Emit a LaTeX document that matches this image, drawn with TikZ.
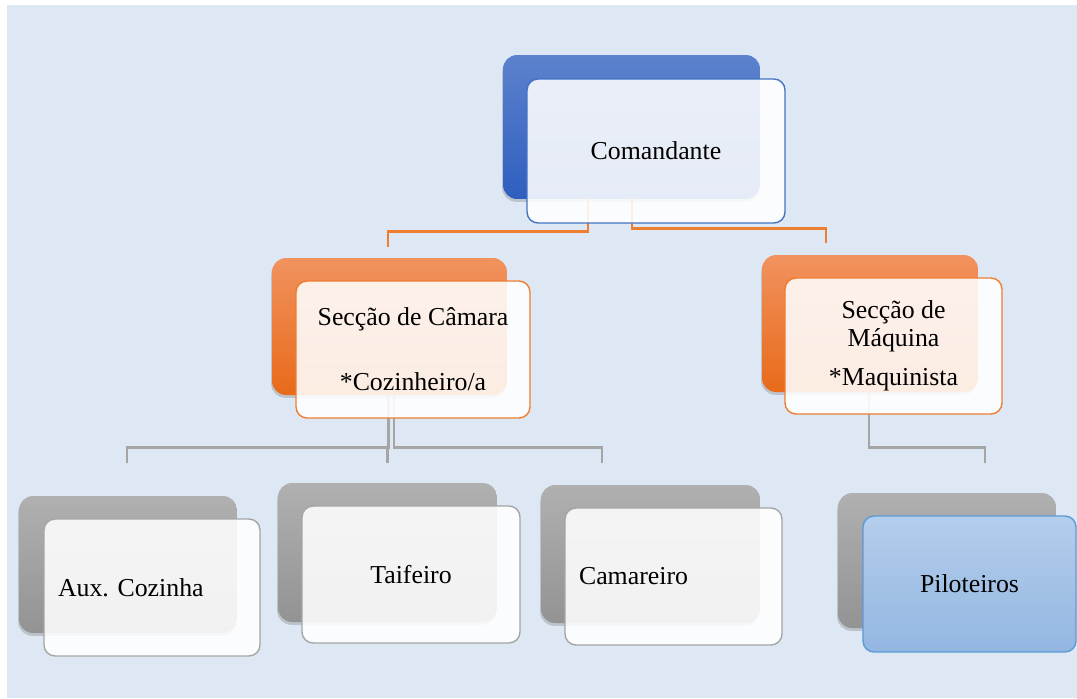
\documentclass[tikz,border=0pt]{standalone}
\usepackage{fontspec}
\setmainfont{Liberation Serif}
\usetikzlibrary{shadows,calc}

\definecolor{bgblue}{HTML}{DEE8F4}
\definecolor{cmdtop}{HTML}{5C82CD}
\definecolor{cmdbot}{HTML}{2F5EBF}
\definecolor{cmdline}{HTML}{4472C4}
\definecolor{ortop}{HTML}{F1925E}
\definecolor{orbot}{HTML}{E86A1A}
\definecolor{orline}{HTML}{ED7D31}
\definecolor{grtop}{HTML}{B0B0B0}
\definecolor{grbot}{HTML}{939393}
\definecolor{grline}{HTML}{A5A5A5}
\definecolor{pltop}{HTML}{B4CEEC}
\definecolor{plbot}{HTML}{93B6E1}
\definecolor{plline}{HTML}{5B9BD5}

\begin{document}
\begin{tikzpicture}[x=0.02cm,y=-0.02cm,font=\fontsize{14.7}{16}\selectfont]
        \tikzstyle{back}=[rectangle,rounded corners=0.28cm,inner sep=0pt,drop shadow={shadow xshift=-0.5pt,shadow yshift=-1.6pt,opacity=0.35}]
        \tikzstyle{front}=[rectangle,rounded corners=0.22cm,draw,line width=0.8pt,fill=white,fill opacity=0.88,text opacity=1,align=center]
        \tikzstyle{blueback}=[back,top color=cmdtop,bottom color=cmdbot]
        \tikzstyle{orangeback}=[back,top color=ortop,bottom color=orbot]
        \tikzstyle{grayback}=[back,top color=grtop,bottom color=grbot]
        \tikzstyle{orangeline}=[draw=orline,line width=1.6pt]
        \tikzstyle{grayline}=[draw=grline,line width=1.6pt]

        \useasboundingbox (0,0) rectangle (1077,698);
        \fill[bgblue] (7,5) rectangle (1077,698);

        % back tabs
        \node [blueback,minimum width=5.14cm,minimum height=2.88cm] (coman-b) at (631.5,127) {};
        \node [orangeback,minimum width=4.7cm,minimum height=2.74cm] (camara-b) at (389.5,326.5) {};
        \node [orangeback,minimum width=4.32cm,minimum height=2.74cm] (maquina-b) at (870,323.5) {};
        \node [grayback,minimum width=4.36cm,minimum height=2.74cm] (aux-b) at (128,564.5) {};
        \node [grayback,minimum width=4.38cm,minimum height=2.78cm] (taif-b) at (387.5,552.5) {};
        \node [grayback,minimum width=4.38cm,minimum height=2.76cm] (cama-b) at (650.5,554) {};
        \node [grayback,minimum width=4.36cm,minimum height=2.7cm] (pilot-b) at (947,560.5) {};

        % connectors
        \draw[orangeline] (coman-b.south) ++(-43.5,0) -- ++(0,32) -| ($(camara-b.north)+(-1.5,-11)$);
        \draw[orangeline] (coman-b.south) ++(0.5,0) -- ++(0,29) -| ($(maquina-b.north)+(-44,-12)$);
        \draw[grayline] (camara-b.south) ++(-1,0) -- ++(0,52) -| ($(aux-b.north)+(-1,-33)$);
        \draw[grayline] (camara-b.south) ++(4.5,0) -- ++(0,52) -| ($(cama-b.north)+(-48.5,-22)$);
        \draw[grayline] ($(camara-b.south)+(-1,52)$) -| ($(taif-b.north)+(0,-20)$);
        \draw[grayline] (maquina-b.south) ++(-1,0) -- ++(0,55) -| ($(pilot-b.north)+(38,-30)$);

        % front cards
        \node [front,draw=cmdline,minimum width=5.16cm,minimum height=2.88cm] (coman) at (656,151) {Comandante};
        \node [front,draw=orline,minimum width=4.68cm,minimum height=2.74cm] (camara) at (413,349.5) {Secção de Câmara\\[21pt]*Cozinheiro/a};
        \node [front,draw=orline,minimum width=4.34cm,minimum height=2.72cm] (maquina) at (893.5,346) {Secção de\\Máquina\\[6pt]*Maquinista};
        \node [front,draw=grline,minimum width=4.32cm,minimum height=2.74cm,text width=3.76cm,inner xsep=0.28cm,align=left] (aux) at (152,587.5) {Aux.\ Cozinha};
        \node [front,draw=grline,minimum width=4.36cm,minimum height=2.74cm] (taif) at (411,574.5) {Taifeiro};
        \node [front,draw=grline,minimum width=4.34cm,minimum height=2.74cm,text width=3.78cm,inner xsep=0.28cm,align=left] (cama) at (673.5,576.5) {Camareiro};
        \node [front,draw=plline,fill opacity=1,top color=pltop,bottom color=plbot,minimum width=4.26cm,minimum height=2.72cm] (pilot) at (969.5,584) {Piloteiros};
\end{tikzpicture}
\end{document}
